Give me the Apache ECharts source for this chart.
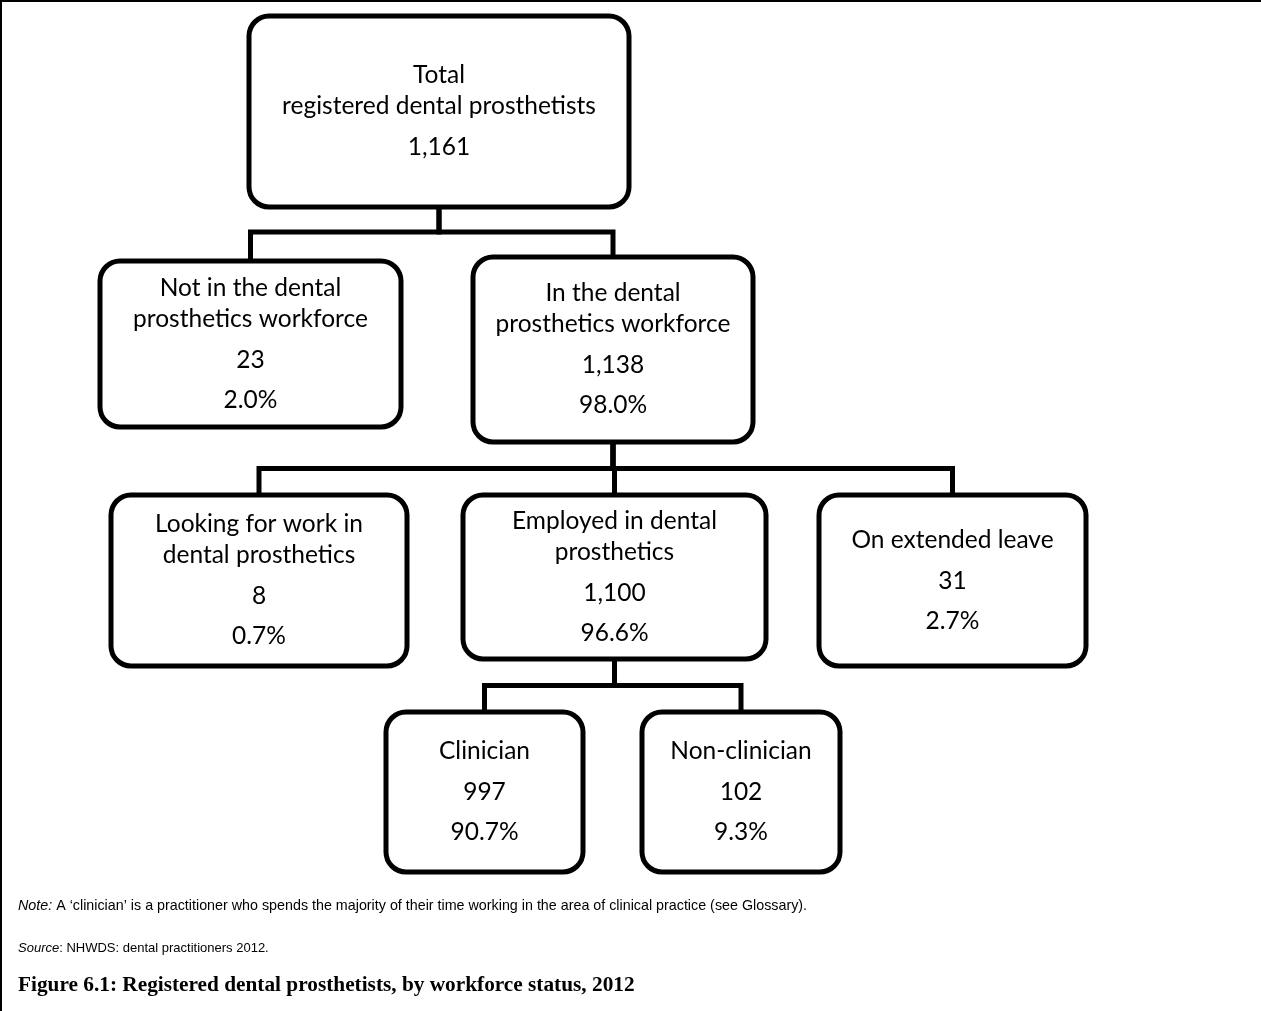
<!DOCTYPE html>
<html>
<head>
<meta charset="utf-8">
<script src="https://cdn.jsdelivr.net/npm/echarts@6/dist/echarts.min.js"></script>
<style>
html,body{margin:0;padding:0;background:#ffffff;}
#chart{width:1261px;height:1011px;}
</style>
</head>
<body>
<div id="chart"></div>
<script>
// ---------- data ----------
const nodeTitles = [
  ['Total', 'registered dental prosthetists'],
  ['Not in the dental', 'prosthetics workforce'],
  ['In the dental', 'prosthetics workforce'],
  ['Looking for work in', 'dental prosthetics'],
  ['Employed in dental', 'prosthetics'],
  ['On extended leave'],
  ['Clinician'],
  ['Non-clinician']
];
const nodeCounts = [1161, 23, 1138, 8, 1100, 31, 997, 102];
const nodePercents = [null, 2.0, 98.0, 0.7, 96.6, 2.7, 90.7, 9.3];
const nodeParents = [-1, 0, 0, 2, 2, 2, 4, 4];

const noteLabel = 'Note:';
const noteText = ' A \u2018clinician\u2019 is a practitioner who spends the majority of their time working in the area of clinical practice (see Glossary).';
const sourceLabel = 'Source';
const sourceText = ': NHWDS: dental practitioners 2012.';
const figureTitle = 'Figure 6.1: Registered dental prosthetists, by workforce status, 2012';

// ---------- layout (pixels: left, top, right, bottom) ----------
const nodeBoxes = [
  [249, 16, 629, 207],
  [100, 261, 401, 427],
  [473, 257, 753, 442],
  [111, 495, 407, 666],
  [463, 495, 766, 659],
  [819, 495, 1086, 666],
  [386, 712, 583, 872],
  [642, 712, 840, 872]
];
const W = 1261, H = 1011;
const FONT = '24.5px Lato';
const TITLE_STEP = 31, COUNT_GAP = 41, PCT_GAP = 40;

function fmtNum(n) { return String(n).replace(/\B(?=(\d{3})+(?!\d))/g, ','); }

// connectors built from the tree structure
const connectorData = [];
nodeParents.forEach(function (p, i) {
  if (p < 0) return;
  const pb = nodeBoxes[p], cb = nodeBoxes[i];
  const px = (pb[0] + pb[2]) / 2;
  const cx = (cb[0] + cb[2]) / 2;
  let minTop = Infinity;
  nodeParents.forEach(function (q, j) { if (q === p) minTop = Math.min(minTop, nodeBoxes[j][1]); });
  const barY = (pb[3] + minTop) / 2;
  connectorData.push({ coords: [[px, pb[3]], [px, barY], [cx, barY], [cx, cb[1]]] });
});

const nodeData = nodeBoxes.map(function (b, i) { return [b[0], b[1], b[2], b[3], i]; });

function renderNode(params, api) {
  const i = api.value(4);
  const p0 = api.coord([api.value(0), api.value(1)]);
  const p1 = api.coord([api.value(2), api.value(3)]);
  const x = p0[0], y = p0[1], w = p1[0] - p0[0], h = p1[1] - p0[1];
  const lines = nodeTitles[i].slice();
  const offs = [];
  let cur = 0;
  lines.forEach(function (l, k) { if (k > 0) cur += TITLE_STEP; offs.push(cur); });
  lines.push(fmtNum(nodeCounts[i])); cur += COUNT_GAP; offs.push(cur);
  if (nodePercents[i] !== null) { lines.push(nodePercents[i].toFixed(1) + '%'); cur += PCT_GAP; offs.push(cur); }
  const cy = y + h / 2, start = cy - cur / 2, cxm = x + w / 2;
  const children = [{
    type: 'rect',
    shape: { x: x, y: y, width: w, height: h, r: 20 },
    style: { fill: '#ffffff', stroke: '#000000', lineWidth: 5 }
  }];
  lines.forEach(function (t, k) {
    children.push({
      type: 'text',
      style: { text: t, x: cxm, y: start + offs[k], align: 'center', verticalAlign: 'middle', font: FONT, fill: '#000000' }
    });
  });
  return { type: 'group', children: children };
}

const chart = echarts.init(document.getElementById('chart'));
chart.setOption({
  animation: false,
  backgroundColor: '#ffffff',
  grid: { left: 0, right: 0, top: 0, bottom: 0 },
  xAxis: { type: 'value', min: 0, max: W, show: false },
  yAxis: { type: 'value', min: 0, max: H, inverse: true, show: false },
  series: [
    {
      type: 'lines',
      coordinateSystem: 'cartesian2d',
      polyline: true,
      z: 1,
      silent: true,
      lineStyle: { color: '#000000', width: 5, opacity: 1, cap: 'butt', join: 'miter' },
      data: connectorData
    },
    {
      type: 'custom',
      z: 2,
      silent: true,
      renderItem: renderNode,
      data: nodeData
    }
  ],
  graphic: [
    { type: 'line', shape: { x1: 1, y1: 0, x2: 1, y2: H }, style: { stroke: '#000', lineWidth: 2 } },
    { type: 'line', shape: { x1: 0, y1: 1, x2: W, y2: 1 }, style: { stroke: '#000', lineWidth: 2 } },
    {
      type: 'text', left: 18, top: 899,
      style: {
        text: '{i|' + noteLabel + '}{n|' + noteText + '}',
        rich: {
          i: { fontFamily: 'Liberation Sans', fontSize: 14.3, fontStyle: 'italic', fill: '#000' },
          n: { fontFamily: 'Liberation Sans', fontSize: 14.3, fill: '#000' }
        }
      }
    },
    {
      type: 'text', left: 18, top: 942,
      style: {
        text: '{i|' + sourceLabel + '}{n|' + sourceText + '}',
        rich: {
          i: { fontFamily: 'Liberation Sans', fontSize: 13, fontStyle: 'italic', fill: '#000' },
          n: { fontFamily: 'Liberation Sans', fontSize: 13, fill: '#000' }
        }
      }
    },
    {
      type: 'text', left: 18, top: 975,
      style: { text: figureTitle, font: 'bold 21.3px "Liberation Serif"', fill: '#000' }
    }
  ]
});
</script>
</body>
</html>
